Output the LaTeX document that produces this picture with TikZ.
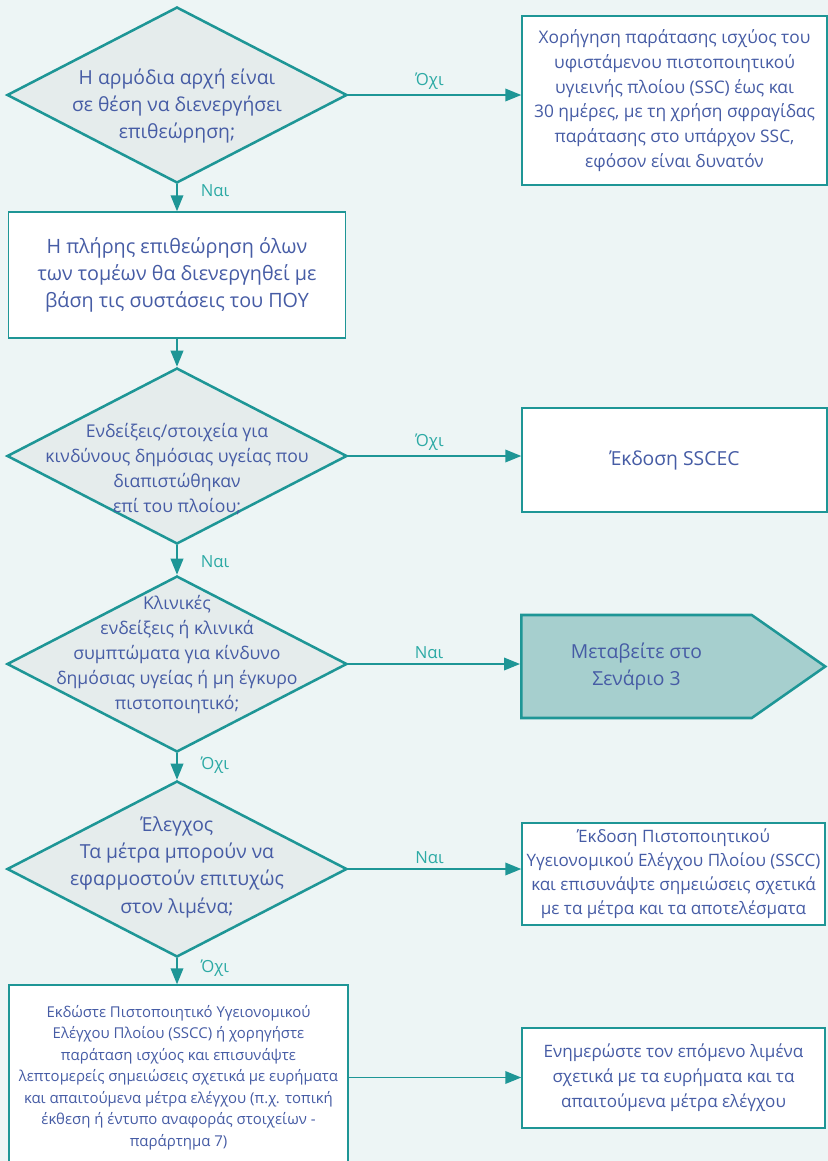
\documentclass[tikz,border=0pt]{standalone}
\usepackage{fontspec}
\setmainfont{Open Sans}
\usetikzlibrary{shapes.geometric,shapes.symbols,arrows.meta}
\definecolor{flowline}{RGB}{30,150,150}
\definecolor{answer}{RGB}{45,170,165}
\definecolor{ink}{RGB}{70,92,165}
\definecolor{pagebg}{RGB}{237,245,245}
\definecolor{askfill}{RGB}{229,236,236}
\definecolor{gofill}{RGB}{166,207,206}
\newcommand{\fs}[2]{\fontsize{#1}{#2}\selectfont}

\begin{document}
\begin{tikzpicture}[x=0.75pt, y=-0.75pt, >={Triangle[length=12pt,width=9.5pt]},
  every node/.style={text=ink, align=center},
  ask/.style={diamond, draw=flowline, line width=1.9pt, fill=askfill,
    inner sep=0pt, minimum width=255pt, minimum height=132pt},
  asktext/.style={font=\fs{14.5}{20.5}},
  act/.style={rectangle, draw=flowline, line width=1.1pt, fill=white, inner sep=0pt},
  goto/.style={signal, signal to=east, signal pointer angle=70, draw=flowline,
    line width=1.9pt, fill=gofill, inner sep=0pt},
  link/.style={->, draw=flowline, line width=1.1pt},
  lbl/.style={text=answer, font=\fs{12.5}{15}}]
  \useasboundingbox[fill=pagebg] (0,0) rectangle (828,1161);
  % Erotisi 1: armodia archi
  \node[ask] (q1) at (177,95) {};
  \node[asktext] (q1t) at (177,106) {Η αρμόδια αρχή είναι\\ σε θέση να διενεργήσει\\ επιθεώρηση;};
  \node[act, minimum width=228.75pt, minimum height=126.75pt, font=\fs{13}{18.6}] (a1) at (674.5,100.5)
    {Χορήγηση παράτασης ισχύος του\\ υφιστάμενου πιστοποιητικού\\ υγιεινής πλοίου (SSC) έως και\\ 30 ημέρες, με τη χρήση σφραγίδας\\ παράτασης στο υπάρχον SSC,\\ εφόσον είναι δυνατόν};
  \draw[link] (q1.east) -- (q1.east -| a1.west) node[lbl, above, pos=0.47] {Όχι};
  % Pliris epitheorisi
  \node[act, minimum width=252.75pt, minimum height=94.5pt, font=\fs{14.8}{20.5}] (b2) at (177,275)
    {Η πλήρης επιθεώρηση όλων\\ των τομέων θα διενεργηθεί με\\ βάση τις συστάσεις του ΠΟΥ};
  \draw[link] (q1.south) -- (b2.north) node[lbl, right=14pt, pos=0.25] {Ναι};
  % Erotisi 2: endeixeis
  \node[ask] (q2) at (177,456) {};
  \node[asktext, font=\fs{13.2}{18.75}] (q2t) at (177,469) {Ενδείξεις/στοιχεία για\\ κινδύνους δημόσιας υγείας που\\ διαπιστώθηκαν\\ επί του πλοίου;};
  \draw[link] (b2.south) -- (q2.north);
  \node[act, minimum width=228.75pt, minimum height=78pt, font=\fs{14.5}{20}] (a2) at (674.5,460) {Έκδοση SSCEC};
  \draw[link] (q2.east) -- (q2.east -| a2.west) node[lbl, above, pos=0.47] {Όχι};
  % Erotisi 3: klinikes endeixeis
  \node[ask] (q3) at (177,664) {};
  \node[asktext, font=\fs{13.2}{18.75}] (q3t) at (177,655) {Κλινικές\\ ενδείξεις ή κλινικά\\ συμπτώματα για κίνδυνο\\ δημόσιας υγείας ή μη έγκυρο\\ πιστοποιητικό;};
  \draw[link] (q2.south) -- (q3.north) node[lbl, right=14pt, pos=0.55] {Ναι};
  \node[goto, minimum width=228pt, minimum height=77.25pt, font=\fs{14.5}{20}] (go3) at (636.5,666.5) {Μεταβείτε στο\\ Σενάριο 3};
  \draw[link] (q3.east) -- (q3.east -| go3.west) node[lbl, above, pos=0.47] {Ναι};
  % Erotisi 4: elegchos
  \node[ask] (q4) at (177,869) {};
  \node[asktext] (q4t) at (177,867) {Έλεγχος\\ Τα μέτρα μπορούν να\\ εφαρμοστούν επιτυχώς\\ στον λιμένα;};
  \draw[link] (q3.south) -- (q4.north) node[lbl, right=14pt, pos=0.45] {Όχι};
  \node[act, minimum width=227.25pt, minimum height=76.5pt, font=\fs{12.8}{18}] (a4) at (673.5,874)
    {Έκδοση Πιστοποιητικού\\ Υγειονομικού Ελέγχου Πλοίου (SSCC)\\ και επισυνάψτε σημειώσεις σχετικά\\ με τα μέτρα και τα αποτελέσματα};
  \draw[link] (q4.east) -- (q4.east -| a4.west) node[lbl, above, pos=0.47] {Ναι};
  % Ekdosi SSCC kai enimerosi
  \node[act, minimum width=254.25pt, minimum height=138.75pt, font=\fs{11.2}{16.1}] (b6) at (178.5,1077.5)
    {Εκδώστε Πιστοποιητικό Υγειονομικού\\ Ελέγχου Πλοίου (SSCC) ή χορηγήστε\\ παράταση ισχύος και επισυνάψτε\\ λεπτομερείς σημειώσεις σχετικά με ευρήματα\\ και απαιτούμενα μέτρα ελέγχου (π.χ. τοπική\\ έκθεση ή έντυπο αναφοράς στοιχείων -\\ παράρτημα 7)};
  \draw[link] (q4.south) -- (q4.south |- b6.north) node[lbl, right=14pt, pos=0.4] {Όχι};
  \node[act, minimum width=227.25pt, minimum height=75pt, font=\fs{12.8}{18.75}] (a6) at (673.5,1078)
    {Ενημερώστε τον επόμενο λιμένα\\ σχετικά με τα ευρήματα και τα\\ απαιτούμενα μέτρα ελέγχου};
  \draw[link] (b6.east) -- (b6.east -| a6.west);
\end{tikzpicture}
\end{document}
